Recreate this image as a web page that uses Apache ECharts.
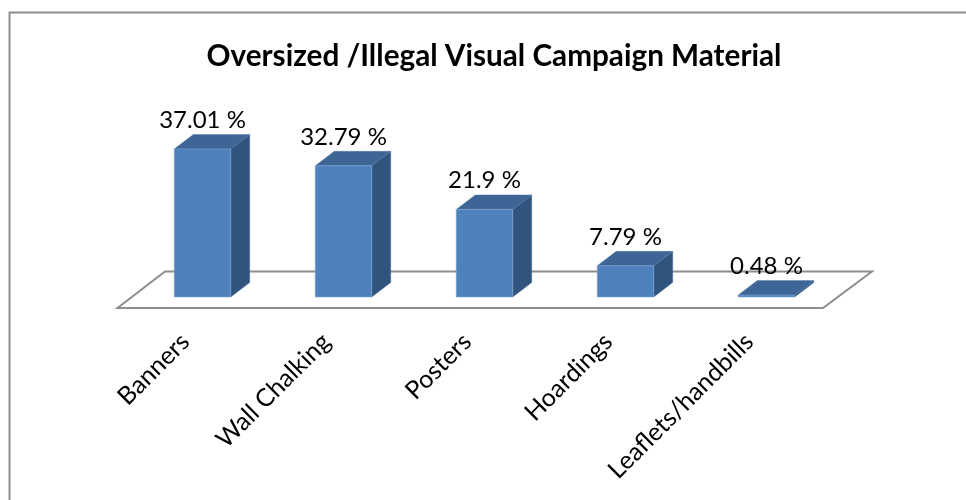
<!DOCTYPE html>
<html>
<head>
<meta charset="utf-8">
<style>html,body{margin:0;padding:0;background:#fff}#c{width:966px;height:500px}</style>
<script src="https://cdn.jsdelivr.net/npm/echarts@6/dist/echarts.min.js"></script>
</head>
<body>
<div id="c"></div>
<script>
const titleText = 'Oversized /Illegal Visual Campaign Material';
const categories = ['Banners', 'Wall Chalking', 'Posters', 'Hoardings', 'Leaflets/handbills'];
const values = [37.01, 32.79, 21.9, 7.79, 0.48];
const FONT = 'Lato, "Open Sans", sans-serif';

const chart = echarts.init(document.getElementById('c'), null, {renderer: 'canvas'});

function renderFloor(params, api) {
  const cs = params.coordSys;
  const by = cs.y + cs.height;
  return {
    type: 'polygon', silent: true,
    shape: {points: [
      [cs.x - 15, by + 11], [cs.x + cs.width - 14.5, by + 11],
      [cs.x + cs.width + 34.5, by - 25.5], [cs.x + 32.5, by - 25.5]
    ]},
    style: {fill: '#ffffff', stroke: '#8e8e8e', lineWidth: 2}
  };
}

function renderBar(params, api) {
  const i = api.value(0), v = api.value(1);
  const base = api.coord([i, 0]);
  const top = api.coord([i, v]);
  const w = 56.5, dx = 19, dy = 14.5;
  const x0 = base[0] - w / 2 - 0.5, x1 = x0 + w;
  const yb = base[1], yt = top[1];
  return {
    type: 'group',
    children: [
      {type: 'polygon', shape: {points: [[x1, yb], [x1 + dx, yb - dy], [x1 + dx, yt - dy], [x1, yt]]},
        style: {fill: '#31547c', stroke: '#4a73a5', lineWidth: 0.4}},
      {type: 'polygon', shape: {points: [[x0, yt], [x1, yt], [x1 + dx, yt - dy], [x0 + dx, yt - dy]]},
        style: {fill: '#3d6596', stroke: '#4a73a5', lineWidth: 0.4}},
      {type: 'rect', shape: {x: x0, y: yt, width: w, height: yb - yt},
        style: {fill: '#4f81bd', stroke: '#7fa5d3', lineWidth: 0.6}},
      {type: 'text', z2: 10,
        style: {x: base[0] - 0.5, y: yt - 17, text: v + ' %', fill: '#000', font: '24px ' + FONT,
          align: 'center', verticalAlign: 'bottom'}}
    ]
  };
}

chart.setOption({
  animation: false,
  backgroundColor: '#fff',
  title: {
    text: titleText, left: 489, top: 36, textAlign: 'center',
    textStyle: {fontFamily: FONT, fontSize: 29.7, fontWeight: 'bold', color: '#000'}
  },
  grid: {left: 132.5, width: 705, top: 97, height: 200, containLabel: false},
  xAxis: {
    type: 'category', data: categories,
    axisLine: {show: false}, axisTick: {show: false}, splitLine: {show: false},
    axisLabel: {rotate: 45, interval: 0, margin: 23, padding: [0, 25, 0, 0], fontFamily: FONT, fontSize: 25, color: '#000'}
  },
  yAxis: {type: 'value', min: 0, max: 50, show: false},
  graphic: [{
    type: 'polyline', silent: true, z: -1,
    shape: {points: [[9.5, 500], [9.5, 12.5], [966, 12.5]]},
    style: {fill: null, stroke: '#8e8e8e', lineWidth: 2}
  }],
  series: [
    {type: 'custom', coordinateSystem: 'cartesian2d', z: 1, data: [[0, 0]], renderItem: renderFloor, silent: true},
    {type: 'custom', coordinateSystem: 'cartesian2d', z: 2,
      data: values.map((v, i) => [i, v]), encode: {x: 0, y: 1}, renderItem: renderBar}
  ]
});
</script>
</body>
</html>
